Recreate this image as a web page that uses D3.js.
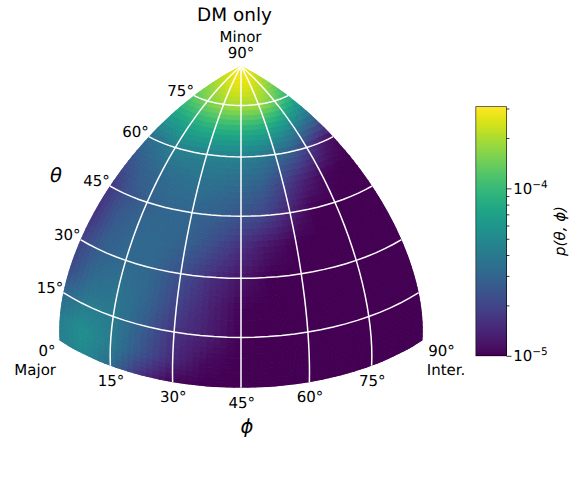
<!DOCTYPE html>
<html>
<head>
<meta charset="utf-8">
<style>
  html, body { margin: 0; padding: 0; background: #fff; }
  text { font-family: "DejaVu Sans", sans-serif; fill: #000; text-rendering: geometricPrecision; }
</style>
<script src="https://cdn.jsdelivr.net/npm/d3@7"></script>
</head>
<body>
<script>
// Chart Parameters
var svgWidth = 574;
var svgHeight = 482;

// Sample positions of the density table, in degrees
var phiSamples = [0, 7.5, 15, 22.5, 30, 37.5, 45, 52.5, 60, 67.5, 75, 82.5, 90];
var thetaSamples = [0, 7.5, 15, 22.5, 30, 37.5, 45, 52.5, 60, 67.5, 75, 82.5, 90];

// p(theta, phi) in units of 1e-5, one row per theta
var densityUnit = 1e-5;
var theta00 = [4.2, 5.0, 3.4, 1.6, 1, 1, 1, 1, 1, 1, 1, 1, 1];
var theta07 = [4.2, 5.6, 4.2, 2.5, 1.5, 1.07, 1, 1, 1, 1, 1, 1, 1];
var theta15 = [3.1, 4.2, 4.1, 2.8, 1.67, 1.32, 1, 1, 1, 1, 1, 1, 1];
var theta22 = [2.1, 3.3, 3.7, 3.1, 2.0, 1.4, 1.03, 1, 1, 1, 1, 1, 1];
var theta30 = [2.0, 2.8, 3.2, 3.1, 2.3, 1.6, 1.2, 1, 1, 1, 1, 1, 1];
var theta37 = [1.6, 2.6, 3.1, 3.2, 2.9, 2.2, 1.6, 1.2, 1, 1, 1, 1, 1];
var theta45 = [1.7, 2.4, 2.8, 3.1, 3.0, 2.8, 2.4, 2.0, 1.35, 1, 1, 1, 1];
var theta52 = [2.3, 2.8, 3.2, 3.4, 3.6, 3.4, 3.2, 2.8, 2.0, 1.4, 1.07, 1, 1];
var theta60 = [3.4, 3.7, 4.4, 4.5, 4.5, 4.5, 4.4, 4.1, 3.4, 2.8, 1.9, 1.3, 1.07];
var theta67 = [6.6, 7.1, 7.8, 8.4, 8.7, 8.7, 8.7, 8.4, 7.8, 6.6, 5.2, 4.2, 3.3];
var theta75 = [12.6, 14, 15.6, 17.2, 18.5, 19.7, 19.7, 19.7, 19, 16.7, 14, 11, 9.3];
var theta82 = [19.7, 21.1, 22.6, 24.2, 26, 26.8, 26.8, 26.8, 26, 24.2, 22.6, 20.4, 19];
var theta90 = [30.8, 30.8, 30.8, 30.8, 30.8, 30.8, 30.8, 30.8, 30.8, 30.8, 30.8, 30.8, 30.8];
var densityRows = [theta00, theta07, theta15, theta22, theta30, theta37, theta45,
                   theta52, theta60, theta67, theta75, theta82, theta90];

// Grid lines and labels
var phiLines = [15, 30, 45, 60, 75];
var thetaLines = [15, 30, 45, 60, 75];
var phiTicks = [15, 30, 45, 60, 75];
var thetaTicks = [15, 30, 45, 60, 75];
var colorMajor = [1e-5, 1e-4];
var colorMinor = [2e-5, 3e-5, 4e-5, 5e-5, 6e-5, 7e-5, 8e-5, 9e-5, 2e-4, 3e-4];
var colorMajorExp = ["\u22125", "\u22124"];
var colorDomain = [1e-5, 3.08e-4];

var svg = d3.select("body")
            .append("svg")
            .attr("width", svgWidth)
            .attr("height", svgHeight)
            .style("display", "block");

// Octant of a sphere seen by a perspective camera, z squashed like a 3d box aspect
var elev = 34.48 * Math.PI / 180;
var zSquash = 0.824;
var camDist = 8.1332;

function octantRaw(lam, phi) {
    var u = Math.cos(phi) * Math.sin(lam);
    var f = Math.cos(phi) * Math.cos(lam);
    var z = zSquash * Math.sin(phi);
    var w = f * Math.cos(elev) + z * Math.sin(elev);
    var v = z * Math.cos(elev) - f * Math.sin(elev);
    var p = camDist / (camDist - w);
    return [u * p, v * p];
}

var projection = d3.geoProjection(octantRaw)
                   .scale(238.3)
                   .translate([241, 387.85]);
var geoPath = d3.geoPath(projection);

function place(phiDeg, thetaDeg) {
    return projection([phiDeg - 45, thetaDeg]);
}

// Colour scale
var colorScale = d3.scaleSequentialLog(d3.interpolateViridis)
                   .domain(colorDomain)
                   .clamp(true);

// Gouraud style shading between the table samples, in log space
function density(phiDeg, thetaDeg) {
    var i = Math.min(d3.bisectRight(phiSamples, phiDeg) - 1, phiSamples.length - 2);
    var j = Math.min(d3.bisectRight(thetaSamples, thetaDeg) - 1, thetaSamples.length - 2);
    var a = (phiDeg - phiSamples[i]) / (phiSamples[i + 1] - phiSamples[i]);
    var b = (thetaDeg - thetaSamples[j]) / (thetaSamples[j + 1] - thetaSamples[j]);
    var low = Math.log(densityRows[j][i]) * (1 - a) + Math.log(densityRows[j][i + 1]) * a;
    var high = Math.log(densityRows[j + 1][i]) * (1 - a) + Math.log(densityRows[j + 1][i + 1]) * a;
    return Math.exp(low * (1 - b) + high * b) * densityUnit;
}

// Density cells, clipped to the octant so their seam strokes stay inside
var cellStep = 1.5;
var cells = [];
d3.range(0, 90, cellStep).forEach(function(t) {
    d3.range(0, 90, cellStep).forEach(function(p) {
        cells.push({phi: p, theta: t});
    });
});

var cellLine = d3.line();
var outline = [];
d3.range(0, 90.1, cellStep).forEach(function(p) { outline.push(place(p, 0)); });
d3.range(0, 90.1, cellStep).forEach(function(t) { outline.push(place(90, t)); });
d3.range(0, 90.1, cellStep).forEach(function(t) { outline.push(place(0, 90 - t)); });

svg.append("clipPath")
   .attr("id", "octant")
   .append("path")
   .attr("d", cellLine(outline) + "Z");

svg.append("g")
   .attr("clip-path", "url(#octant)")
   .selectAll("path")
   .data(cells)
   .enter()
   .append("path")
   .attr("d", function(d) {
       return cellLine([
           place(d.phi, d.theta),
           place(d.phi + cellStep, d.theta),
           place(d.phi + cellStep, d.theta + cellStep),
           place(d.phi, d.theta + cellStep)
       ]) + "Z";
   })
   .attr("fill", function(d) { return colorScale(density(d.phi + cellStep / 2, d.theta + cellStep / 2)); })
   .attr("stroke", function(d) { return colorScale(density(d.phi + cellStep / 2, d.theta + cellStep / 2)); })
   .attr("stroke-width", 0.9);

// White grid
var gridGroup = svg.append("g")
                   .attr("fill", "none")
                   .attr("stroke", "#fff")
                   .attr("stroke-width", 1.5);

phiLines.forEach(function(p) {
    gridGroup.append("path")
             .attr("d", geoPath({type: "LineString", coordinates: d3.range(0, 91, 3).map(function(t) { return [p - 45, t]; })}));
});
thetaLines.forEach(function(t) {
    gridGroup.append("path")
             .attr("d", geoPath({type: "LineString", coordinates: d3.range(0, 91, 3).map(function(p) { return [p - 45, t]; })}));
});

// Tick labels around the octant
var tickSize = 15;

function addText(x, y, label, anchor) {
    return svg.append("text")
              .attr("x", x)
              .attr("y", y)
              .attr("text-anchor", anchor || "middle")
              .attr("font-size", tickSize)
              .text(label);
}

thetaTicks.forEach(function(t) {
    var pos = place(0, t);
    addText(pos[0], pos[1] + 0.3, t + "\u00b0", "end");
});
phiTicks.forEach(function(p) {
    var pos = place(p, 0);
    addText(pos[0] + 0.7, pos[1] + 20, p + "\u00b0");
});

var pole = place(45, 90);
addText(pole[0], pole[1] - 8, "90\u00b0");
addText(pole[0] - 0.5, pole[1] - 24.3, "Minor");

var major = place(0, 0);
addText(major[0] - 12.5, major[1] + 15.3, "0\u00b0");
addText(major[0] - 24.3, major[1] + 34.5, "Major");

var inter = place(90, 0);
addText(inter[0] + 19, inter[1] + 15.3, "90\u00b0");
addText(inter[0] + 23.5, inter[1] + 34.5, "Inter.");

// Title and axis symbols
svg.append("text")
   .attr("x", 234.5)
   .attr("y", 21)
   .attr("text-anchor", "middle")
   .attr("font-size", 18.4)
   .text("DM only");

svg.append("text")
   .attr("x", 56)
   .attr("y", 182)
   .attr("text-anchor", "middle")
   .attr("font-size", 19.5)
   .attr("font-style", "italic")
   .text("\u03b8");

svg.append("text")
   .attr("x", 247)
   .attr("y", 433)
   .attr("text-anchor", "middle")
   .attr("font-size", 19.5)
   .attr("font-style", "italic")
   .text("\u03d5");

// Colorbar
var barX = 475.8, barWidth = 30.8, barTop = 106.6, barBottom = 355.8;
var barScale = d3.scaleLog().domain(colorDomain).range([barBottom, barTop]);
var barSteps = d3.range(256).map(function(i) { return i / 256; });
var barGroup = svg.append("g");

barGroup.selectAll("rect")
        .data(barSteps)
        .enter()
        .append("rect")
        .attr("x", barX)
        .attr("width", barWidth)
        .attr("y", function(d) { return barBottom - (d + 1 / 256) * (barBottom - barTop); })
        .attr("height", (barBottom - barTop) / 256 + 0.6)
        .attr("shape-rendering", "crispEdges")
        .attr("fill", function(d) { return d3.interpolateViridis(d + 0.5 / 256); });

barGroup.append("rect")
        .attr("x", barX)
        .attr("y", barTop)
        .attr("width", barWidth)
        .attr("height", barBottom - barTop)
        .attr("fill", "none")
        .attr("stroke", "#000")
        .attr("stroke-width", 0.8)
        .attr("stroke-opacity", 0.75);

var majorAxis = d3.axisRight(barScale).tickValues(colorMajor).tickSize(4.9).tickFormat("");
var minorAxis = d3.axisRight(barScale).tickValues(colorMinor).tickSize(2.8).tickFormat("");

[majorAxis, minorAxis].forEach(function(axis) {
    var g = svg.append("g")
               .attr("transform", `translate(${barX + barWidth}, 0)`)
               .call(axis);
    g.select(".domain").remove();
    g.selectAll("line").attr("stroke", "#000").attr("stroke-width", 0.8);
});

colorMajor.forEach(function(v, i) {
    var label = svg.append("text")
                   .attr("x", 513.2)
                   .attr("y", barScale(v) + 5.4)
                   .attr("font-size", tickSize)
                   .text("10");
    label.append("tspan")
         .attr("dy", -6)
         .attr("font-size", 10.5)
         .text(colorMajorExp[i]);
});

svg.append("text")
   .attr("transform", "translate(565, 231) rotate(-90)")
   .attr("text-anchor", "middle")
   .attr("font-size", 15)
   .attr("font-style", "italic")
   .text("p(\u03b8, \u03d5)");
</script>
</body>
</html>
